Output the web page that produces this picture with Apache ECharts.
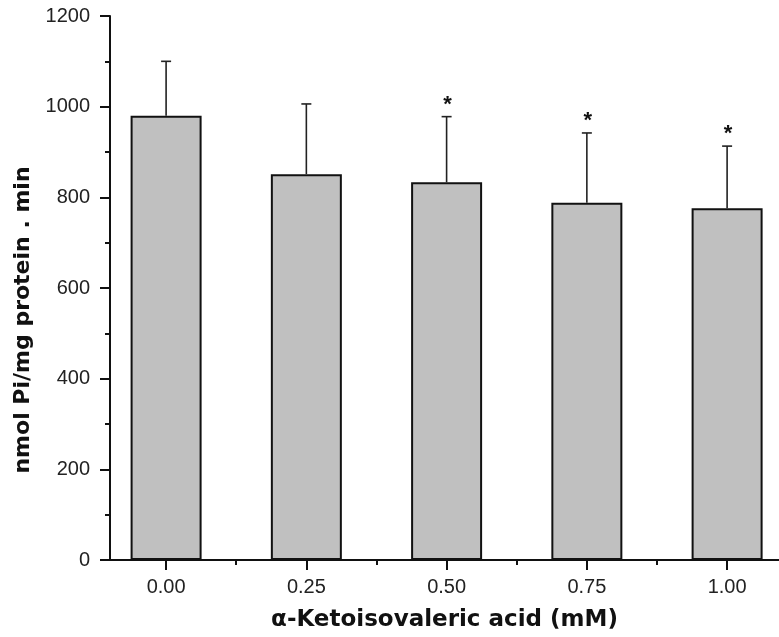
<!DOCTYPE html>
<html>
<head>
<meta charset="utf-8">
<script src="https://cdn.jsdelivr.net/npm/echarts@6/dist/echarts.min.js"></script>
<style>
  html, body { margin: 0; padding: 0; background: #fff; }
  #chart { width: 779px; height: 637px; }
</style>
</head>
<body>
<div id="chart"></div>
<script>
// concentration of alpha-ketoisovaleric acid (mM)
const doses = [0, 0.25, 0.5, 0.75, 1.0];
const doseLabels = ["0.00", "0.25", "0.50", "0.75", "1.00"];
const minorDoses = [0.125, 0.375, 0.625, 0.875];
// activity, nmol Pi/mg protein . min
const activity = [980, 851, 833, 788, 776];
const errUp = [120, 155, 145, 154, 137];
const significant = [false, false, true, true, true];

const chart = echarts.init(document.getElementById("chart"));
const font = "'Liberation Sans', Arial, sans-serif";
const titleFont = "'DejaVu Sans', 'Liberation Sans', sans-serif";

chart.setOption({
  animation: false,
  grid: { left: 110, right: 0, top: 16, bottom: 76 },
  graphic: [
    {
      // y axis title, a bit below the plot centre as in the original
      type: "text",
      x: 23,
      y: 320,
      rotation: Math.PI / 2,
      style: {
        text: "nmol Pi/mg protein . min",
        align: "center",
        verticalAlign: "middle",
        font: "bold 22px " + titleFont,
        fill: "#111"
      }
    }
  ],
  xAxis: [
    {
      type: "value",
      min: -0.1,
      max: 1.0925,
      name: "α-Ketoisovaleric acid (mM)",
      nameLocation: "middle",
      nameGap: 49,
      nameTextStyle: { fontFamily: titleFont, fontSize: 23, fontWeight: "bold", color: "#111" },
      splitLine: { show: false },
      axisLine: { onZero: false, lineStyle: { color: "#111", width: 2 } },
      axisTick: {
        customValues: doses,
        length: 10,
        lineStyle: { color: "#111", width: 2 }
      },
      axisLabel: {
        customValues: doses,
        formatter: v => doseLabels[doses.indexOf(v)] || "",
        fontFamily: font,
        fontSize: 20,
        color: "#222",
        margin: 17
      }
    },
    {
      type: "value",
      min: -0.1,
      max: 1.0925,
      position: "bottom",
      splitLine: { show: false },
      axisLine: { show: false, onZero: false },
      axisLabel: { show: false },
      axisTick: {
        customValues: minorDoses,
        length: 5,
        lineStyle: { color: "#111", width: 2 }
      }
    }
  ],
  yAxis: {
    type: "value",
    min: 0,
    max: 1200,
    interval: 200,
    splitLine: { show: false },
    axisLine: { show: true, onZero: false, lineStyle: { color: "#111", width: 2 } },
    axisTick: { show: true, length: 10, lineStyle: { color: "#111", width: 2 } },
    minorTick: { show: true, splitNumber: 2, length: 5, lineStyle: { color: "#111", width: 2 } },
    axisLabel: {
      formatter: v => String(v),
      fontFamily: font,
      fontSize: 20,
      color: "#222",
      margin: 20
    }
  },
  series: [
    {
      type: "bar",
      barWidth: 71,
      data: doses.map((d, i) => [d, activity[i]]),
      itemStyle: { color: "#c0c0c0", borderColor: "#111", borderWidth: 2 }
    },
    {
      type: "custom",
      data: doses.map((d, i) => [d, activity[i], errUp[i], significant[i] ? 1 : 0]),
      z: 3,
      renderItem: function(params, api) {
        const base = api.coord([api.value(0), api.value(1)]);
        const top = api.coord([api.value(0), api.value(1) + api.value(2)]);
        const style = { stroke: "#222", lineWidth: 1.6 };
        const children = [
          { type: "line", shape: { x1: base[0], y1: base[1], x2: top[0], y2: top[1] }, style: style },
          { type: "line", shape: { x1: top[0] - 5, y1: top[1], x2: top[0] + 5, y2: top[1] }, style: style }
        ];
        if (api.value(3)) {
          children.push({
            type: "text",
            style: {
              text: "*",
              x: top[0] + 1,
              y: top[1] - 12,
              align: "center",
              verticalAlign: "middle",
              font: "bold 22px " + font,
              fill: "#111"
            }
          });
        }
        return { type: "group", children: children };
      }
    }
  ]
});
</script>
</body>
</html>
